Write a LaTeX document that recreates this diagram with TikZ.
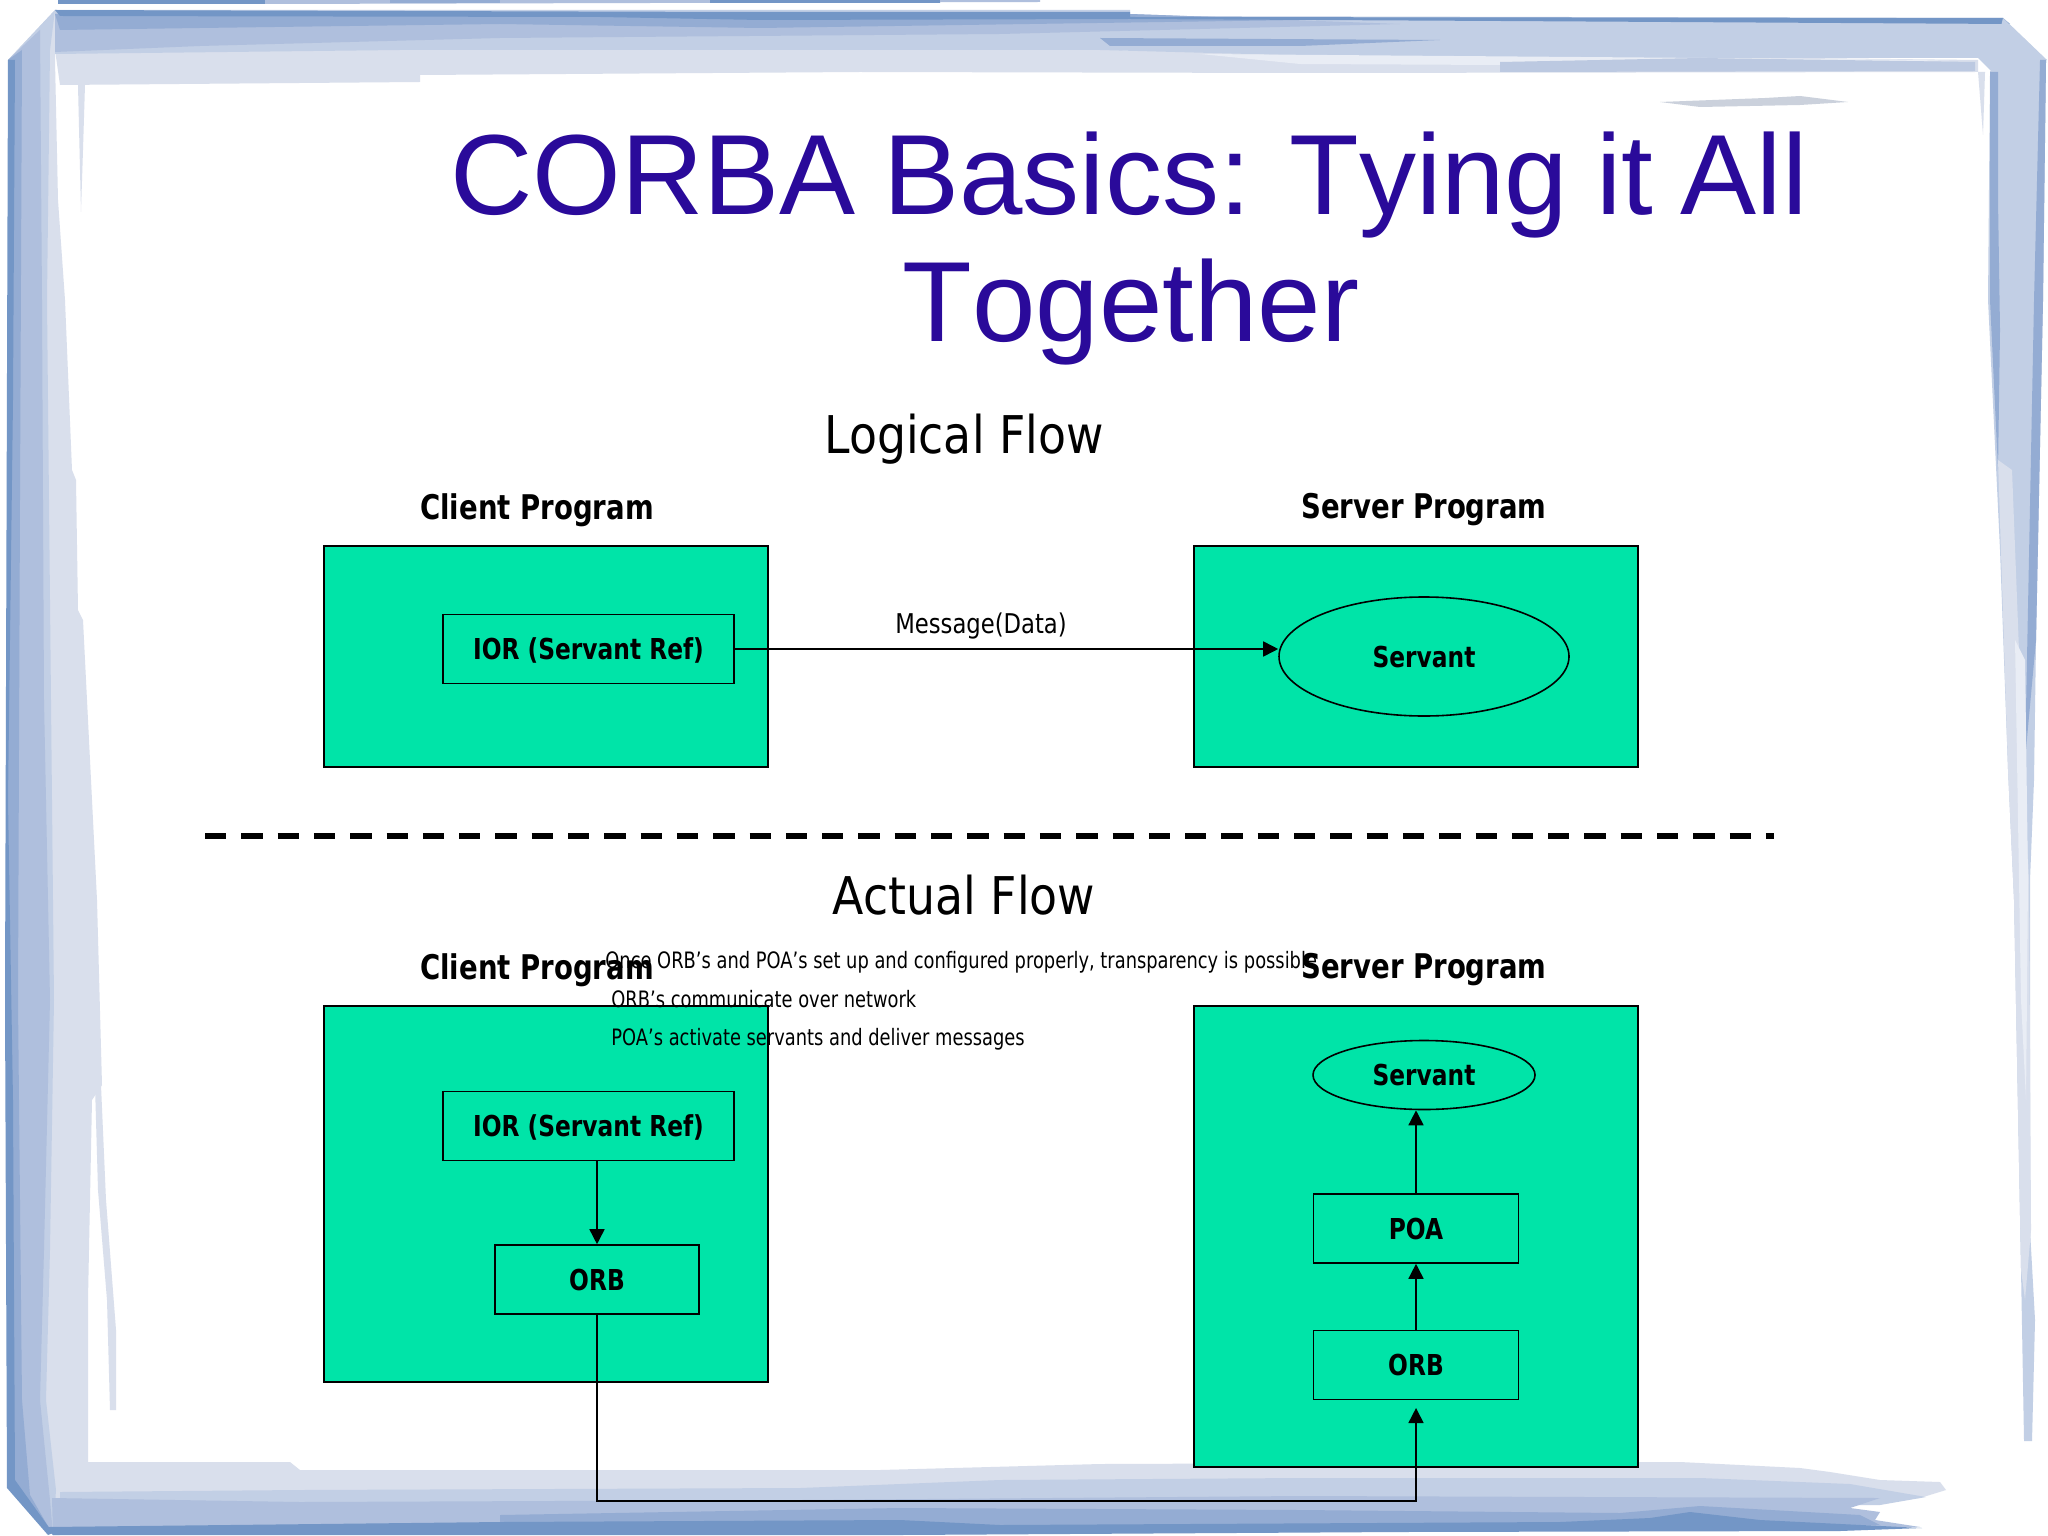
\documentclass[tikz,border=0pt]{standalone}
\usepackage{fontspec}
\setmainfont{Liberation Sans}
\newfontfamily\vf[FakeStretch=0.88]{DejaVu Sans}
\newfontfamily\vfb[FakeStretch=0.81]{DejaVu Sans Bold}
\newfontfamily\vfm[FakeStretch=0.835]{DejaVu Sans}
\newfontfamily\vfn[FakeStretch=0.79]{DejaVu Sans}
\newfontfamily\tf[Kerning=Off,WordSpace=0.88]{Liberation Sans}
\usetikzlibrary{arrows.meta,shapes.geometric}
\definecolor{frameD}{HTML}{7396C6}
\definecolor{frameS}{HTML}{94ACD3}
\definecolor{frameM}{HTML}{AFBFDD}
\definecolor{frameN}{HTML}{C2CFE5}
\definecolor{frameL}{HTML}{D9DFEC}
\definecolor{frameW}{HTML}{E9EDF5}
\definecolor{boxgreen}{HTML}{00E4A8}
\definecolor{titleblue}{HTML}{2A0A9A}
\tikzset{
  greenbox/.style={draw=black,fill=boxgreen,line width=0.9pt,inner sep=0pt},
  innerbox/.style={draw=black,line width=0.8pt,inner sep=0pt,minimum height=34.5pt,text height=12pt,text depth=1.5pt,font=\vfb\fontsize{14.4}{16}\selectfont},
  oval/.style={ellipse,draw=black,line width=0.8pt,inner sep=0pt,text height=12pt,text depth=1.5pt,font=\vfb\fontsize{14.4}{16}\selectfont},
  heading/.style={inner sep=0pt,font=\vf\fontsize{26}{30}\selectfont},
  sidelabel/.style={inner sep=0pt,font=\vfb\fontsize{17}{20}\selectfont},
  note/.style={inner sep=0pt,anchor=west,font=\vfn\fontsize{11.3}{13}\selectfont},
  flow/.style={draw=black,line width=0.8pt,-{Triangle[length=7.5pt,width=7.5pt]}},
  titletext/.style={inner sep=0pt,text=titleblue,anchor=base,font=\tf\fontsize{57}{63}\selectfont}
}
\begin{document}
\begin{tikzpicture}[x=0.5pt,y=-0.5pt]
\useasboundingbox (0,0) rectangle (2048,1535);
\fill[white] (0,0) rectangle (2048,1535);
% ---- frame: top sliver
\fill[frameD] (58,0) -- (265,0) -- (265,4) -- (58,4) -- cycle;
\fill[frameM] (265,0) -- (1040,0) -- (1040,2) -- (265,4) -- cycle;
\fill[frameS] (390,0) -- (500,0) -- (500,3) -- (390,3) -- cycle;
\fill[frameD] (710,0) -- (940,0) -- (940,3) -- (710,3) -- cycle;
% ---- frame: left band
\fill[frameL] (8,60) -- (55,10) -- (55,60) -- (58,200) -- (65,300) -- (72,470) -- (76,480) -- (78,610) -- (83,620) -- (90,760) -- (97,900) -- (102,1085) -- (92,1100) -- (88,1300) -- (88,1480) -- (60,1500) -- (8,1488) -- cycle;
\fill[frameN] (8,60) -- (55,10) -- (50,50) -- (47,300) -- (51,700) -- (54,1000) -- (50,1250) -- (46,1400) -- (56,1490) -- (53,1535) -- (8,1488) -- cycle;
\fill[frameM] (8,60) -- (40,30) -- (42,300) -- (44,700) -- (50,1000) -- (44,1250) -- (40,1400) -- (50,1500) -- (53,1535) -- (8,1488) -- cycle;
\fill[frameS] (8,60) -- (22,50) -- (20,500) -- (18,1000) -- (22,1400) -- (30,1495) -- (53,1535) -- (8,1488) -- cycle;
\fill[frameD] (8,60) -- (15,60) -- (13,400) -- (8,800) -- (13,1100) -- (15,1480) -- (53,1533) -- (48,1535) -- (7,1488) -- (5,1000) -- cycle;
% left streaks
\fill[frameL] (78,85) -- (85,85) -- (83,150) -- (81,212) -- cycle;
\fill[frameL] (95,1085) -- (101,1085) -- (106,1200) -- (116,1330) -- (116,1410) -- (110,1410) -- (107,1300) -- (98,1190) -- cycle;
% ---- frame: top band
\fill[frameL] (55,50) -- (1100,50) -- (1978,60) -- (1978,72) -- (1300,73) -- (860,72) -- (420,75) -- (420,82) -- (60,85) -- cycle;
\fill[frameN] (55,10) -- (1130,10) -- (1130,16) -- (2003,18) -- (2047,60) -- (1990,70) -- (1978,58) -- (1400,58) -- (1100,50) -- (400,50) -- (55,54) -- cycle;
\fill[frameM] (55,14) -- (1130,14) -- (1400,24) -- (1000,34) -- (500,38) -- (200,46) -- (55,52) -- cycle;
\fill[frameS] (55,14) -- (1130,14) -- (1300,20) -- (760,28) -- (500,24) -- (200,28) -- (60,30) -- cycle;
\fill[frameS] (1100,38) -- (1440,40) -- (1300,46) -- (1110,46) -- cycle;
\fill[frameD] (55,10) -- (750,12) -- (1130,12) -- (1130,17) -- (2003,18) -- (2010,24) -- (1500,21) -- (1130,19) -- (760,20) -- (600,17) -- (60,16) -- cycle;
\fill[frameW] (1200,54) -- (1960,60) -- (1700,66) -- (1300,64) -- cycle;
\fill[frameM!70!frameL] (1500,62) -- (1700,58) -- (1975,62) -- (1975,71) -- (1500,72) -- cycle;
% top streak
\fill[frameL!85!gray] (1660,102) -- (1765,98) -- (1800,96) -- (1848,102) -- (1800,105) -- (1700,107) -- cycle;
\fill[frameL] (1978,72) -- (1985,72) -- (1983,135) -- cycle;
% ---- frame: right band
\fill[frameN] (2003,18) -- (2046,60) -- (2043,300) -- (2036,640) -- (2034,780) -- (2030,880) -- (2030,1230) -- (2035,1320) -- (2032,1441) -- (2024,1441) -- (2021,1270) -- (2014,900) -- (2008,770) -- (2000,550) -- (1988,300) -- (1990,72) -- cycle;
\fill[frameS] (1990,72) -- (1998,72) -- (1998,200) -- (2000,330) -- (1998,470) -- (1990,300) -- cycle;
\fill[frameS] (2040,60) -- (2046,60) -- (2043,300) -- (2036,640) -- (2025,760) -- (2034,300) -- cycle;
\fill[frameL] (1998,460) -- (2012,470) -- (2024,780) -- (2029,880) -- (2031,1230) -- (2025,1300) -- (2021,1270) -- (2014,900) -- (2008,770) -- cycle;
\fill[frameW] (2015,640) -- (2025,660) -- (2028,880) -- (2026,1100) -- (2021,1000) -- cycle;
% ---- frame: bottom band
\fill[frameL] (88,1462) -- (290,1462) -- (300,1470) -- (880,1470) -- (1100,1464) -- (1640,1462) -- (1680,1462) -- (1800,1468) -- (1830,1472) -- (1880,1480) -- (1940,1482) -- (1946,1490) -- (1920,1498) -- (60,1500) -- cycle;
\fill[frameN] (60,1492) -- (300,1490) -- (800,1488) -- (1000,1480) -- (1300,1478) -- (1500,1478) -- (1700,1478) -- (1850,1484) -- (1926,1497) -- (1880,1505) -- (60,1505) -- cycle;
\fill[frameM] (52,1498) -- (300,1502) -- (800,1500) -- (1300,1496) -- (1880,1498) -- (1850,1508) -- (1880,1512) -- (1875,1520) -- (1920,1527) -- (1700,1530) -- (53,1535) -- cycle;
\fill[frameS] (500,1515) -- (900,1508) -- (1300,1510) -- (1620,1513) -- (1700,1506) -- (1860,1515) -- (1880,1525) -- (500,1528) -- cycle;
\fill[frameD] (48,1527) -- (500,1522) -- (900,1520) -- (1000,1525) -- (1560,1522) -- (1650,1518) -- (1690,1512) -- (1760,1520) -- (1922,1528) -- (1840,1531) -- (1400,1532) -- (900,1535) -- (53,1535) -- cycle;
% ---- title
\node[titletext] (title1) at (1129,215) {CORBA Basics: Tying it All};
\node[titletext] (title2) at (1131,342) {Together};
% ---- logical flow
\node[heading] (logical) at (964,439) {Logical Flow};
\node[sidelabel] (cliTop) at (537,510) {Client Program};
\node[sidelabel] (srvTop) at (1424,510) {Server Program};
\node[greenbox,minimum width=222pt,minimum height=110.5pt] (cliBoxTop) at (546,656.5) {};
\node[greenbox,minimum width=222pt,minimum height=110.5pt] (srvBoxTop) at (1416,656.5) {};
\node[innerbox,minimum width=145.5pt] (iorTop) at (588.5,649) {IOR (Servant Ref)};
\node[oval,minimum width=145pt,minimum height=59.5pt] (servTop) at (1424,656.5) {Servant};
\draw[flow] (iorTop.east) -- (iorTop.east -| servTop.west);
\node[inner sep=0pt,font=\vfm\fontsize{13.6}{16}\selectfont] (msg) at (981,626) {Message(Data)};
% ---- divider
\coordinate (divL) at (205,836);
\coordinate (divR) at (1774,836);
\draw[line width=3pt,dash pattern=on 10.65pt off 7.5pt] (divL) -- (divR);
% ---- actual flow
\node[heading] (actual) at (964,895) {Actual Flow};
\node[sidelabel] (cliBot) at (537,970) {Client Program};
\node[greenbox,minimum width=222pt,minimum height=188pt] (cliBoxBot) at (546,1194) {};
\node[greenbox,minimum width=222pt,minimum height=230.5pt] (srvBoxBot) at (1416,1236.5) {};
\node[innerbox,minimum width=145.5pt] (iorBot) at (588.5,1126) {IOR (Servant Ref)};
\node[innerbox,minimum width=102pt] (orbCli) at (597,1279.5) {ORB};
\node[oval,minimum width=111pt,minimum height=34.5pt] (servBot) at (1424,1075) {Servant};
\node[innerbox,minimum width=102.5pt] (poa) at (1416,1228.5) {POA};
\node[innerbox,minimum width=102.5pt] (orbSrv) at (1416,1365) {ORB};
\coordinate (bus) at (1000,1501);
\coordinate (busEnd) at (1416,1408);
\draw[flow] (iorBot.south -| orbCli.north) -- (orbCli.north);
\draw[flow] (orbSrv.north) -- (poa.south);
\draw[flow] (poa.north) -- (poa.north |- servBot.south);
\draw[flow] (orbCli.south) -- (orbCli.south |- bus) -- (busEnd |- bus) -- (busEnd);
% ---- notes
\node[note] (n1) at (605,962) {Once ORB’s and POA’s set up and configured properly, transparency is possible};
\node[note] (n2) at (611,999) {ORB’s communicate over network};
\node[note] (n3) at (611,1039) {POA’s activate servants and deliver messages};
\node[sidelabel] (srvBot) at (1424,970) {Server Program};
\end{tikzpicture}
\end{document}
